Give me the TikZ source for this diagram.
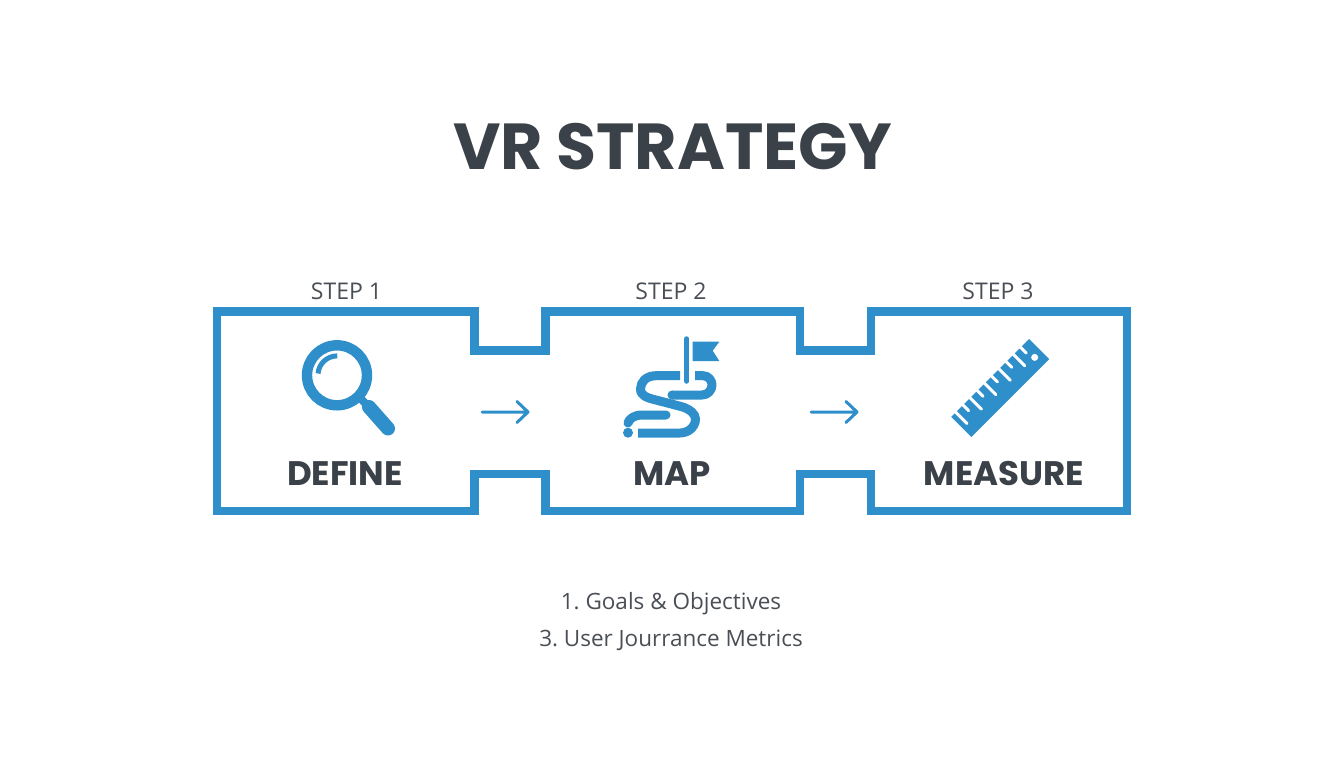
\documentclass[tikz,border=0pt]{standalone}
\usepackage{fontspec}
\setmainfont{Open Sans}
\newfontfamily\headfont{Poppins}
\definecolor{vrblue}{HTML}{2F8FCB}
\definecolor{vrdark}{HTML}{3B4148}
\definecolor{vrgrey}{HTML}{4A4F55}
\tikzset{
  x=1pt,y=-1pt,
  outline/.style={draw=vrblue,line width=8.5pt,miter limit=10},
  flowarrow/.style={draw=vrblue,line width=3pt,line cap=round,line join=round},
  iconline/.style={draw=vrblue,line cap=round,line join=round},
  steplabel/.style={text=vrgrey,font=\frenchspacing\fontsize{23}{26}\selectfont,anchor=center,inner sep=0pt},
  namelabel/.style={text=vrdark,font=\headfont\bfseries\fontsize{34}{38}\selectfont,anchor=center,inner sep=0pt},
  notelabel/.style={text=vrgrey,font=\frenchspacing\fontsize{22.5}{26}\selectfont,anchor=center,inner sep=0pt},
}
\begin{document}
\begin{tikzpicture}
\useasboundingbox (0,0) rectangle (1344,768);
\fill[white] (0,0) rectangle (1344,768);
\node[text=vrdark,font=\headfont\bfseries\fontsize{65}{70}\selectfont,inner sep=0pt] (title) at (672.5,147) {VR STRATEGY};
\node[steplabel] (s1) at (346.5,291) {STEP 1};
\node[steplabel] (s2) at (671,291) {STEP 2};
\node[steplabel] (s3) at (998,291) {STEP 3};
\draw[outline] (217,311.5) -- (474.5,311.5) -- (474.5,350.5) -- (545.5,350.5) -- (545.5,311.5) -- (800,311.5) -- (800,350.5) -- (871,350.5) -- (871,311.5) -- (1127,311.5) -- (1127,511) -- (871,511) -- (871,474) -- (800,474) -- (800,511) -- (545.5,511) -- (545.5,474) -- (474.5,474) -- (474.5,511) -- (217,511) -- cycle;
% arrows
\coordinate (a1s) at (482,412); \coordinate (a1e) at (528,412);
\coordinate (a2s) at (811,412); \coordinate (a2e) at (857,412);
\draw[flowarrow] (a1s) -- (a1e) (517,401.5) -- (a1e) -- (517,422.5);
\draw[flowarrow] (a2s) -- (a2e) (846,401.5) -- (a2e) -- (846,422.5);
% magnifier
\draw[vrblue,line width=10.4pt] (337,375.3) circle (30);
\draw[vrblue,line width=5pt] (318,373.5) arc (185:270:19.3);
\draw[vrblue,line width=8pt] (358,396) -- (370,408);
\draw[iconline,line width=14pt] (369,407) -- (388,428.5);
% map
\draw[iconline,line width=5.5pt] (686.7,339) -- (686.7,381);
\fill[vrblue] (692.7,341.7) -- (719.3,341.7) -- (712.7,350.7) -- (719.3,361) -- (692.7,361) -- cycle;
\draw[iconline,line width=9pt,line cap=butt] (680,375.7) -- (656,375.7) .. controls (646,375.7) and (640.5,382) .. (640.5,389) .. controls (640.5,396) and (648,398) .. (654,399.5) -- (681,406.5) .. controls (690,409) and (695.5,414) .. (695.5,419) .. controls (695.5,427) and (688,433) .. (680,433) -- (638,433);
\draw[iconline,line width=9pt,line cap=butt] (695,375.7) -- (703,375.7) .. controls (709,375.7) and (712,381) .. (712,385) .. controls (712,390) and (708,395) .. (702,395) -- (672,395);
\fill[vrblue] (672,395) circle (4.5);
\draw[iconline,line width=9pt] (666,415) -- (642,415) .. controls (634,415) and (629,419) .. (628,423);
\fill[vrblue] (628,432.7) circle (5);
% ruler
\begin{scope}[shift={(1029,339)},rotate=45]
\fill[vrblue] (-110,0) -- (0,0) -- (0,28.5) -- (-110,28.5) -- cycle;
\foreach \i/\l in {0/8,1/16,2/8,3/16,4/8,5/16,6/8,7/16,8/8,9/16}
  \draw[white,line width=3pt,line cap=round] (-11.8-\i*10.2,-2) -- (-11.8-\i*10.2,\l);
\fill[white] (-9,17) circle (3.5);
\end{scope}
% names
\node[namelabel] (d) at (345,474) {DEFINE};
\node[namelabel] (m) at (672,474) {MAP};
\node[namelabel] (r) at (1004,474) {MEASURE};
\node[notelabel] (n1) at (671,604) {1. Goals \& Objectives};
\node[notelabel] (n2) at (671,640) {3. User Jourrance Metrics};
\end{tikzpicture}
\end{document}
